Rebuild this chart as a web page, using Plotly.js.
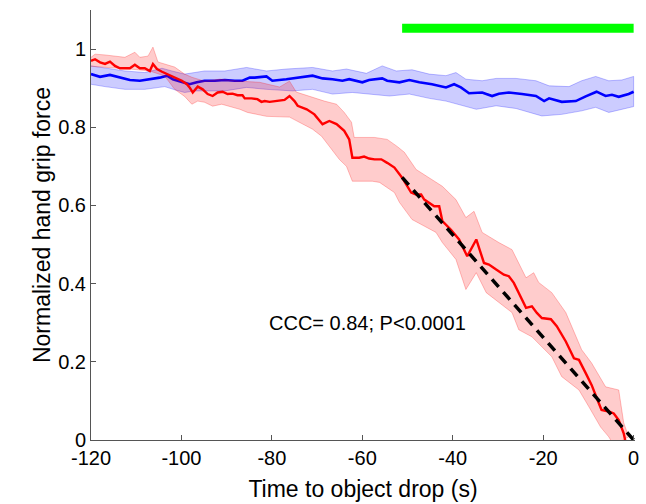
<!DOCTYPE html>
<html>
<head>
<meta charset="utf-8">
<script src="https://cdn.plot.ly/plotly-3.0.1.min.js"></script>
<style>html,body{margin:0;padding:0;background:#fff;}#chart{width:646px;height:504px;}</style>
</head>
<body>
<div id="chart"></div>
<script>
// Red condition (mean)
var redT = [-120,-119.1,-118.0,-116.9,-115.8,-114.7,-113.6,-112.5,-111.4,-110.3,-109.2,-108.1,-107.0,-106.3,-105.4,-104.3,-103.2,-102.1,-101.0,-99.9,-98.8,-98.2,-97.5,-96.4,-95.3,-94.2,-93.1,-92.0,-90.9,-89.8,-88.7,-87.6,-86.5,-86.0,-84.5,-83.2,-82.3,-81.6,-80.5,-78.7,-77.2,-76.1,-75.0,-74.3,-72.3,-70.6,-68.8,-67.3,-65.7,-64.0,-62.9,-62.2,-60.7,-59.6,-58.5,-57.3,-55.8,-54.5,-52.9,-51.2,-49.2,-48.1,-47.0,-46.3,-45.2,-44.1,-43.0,-42.3,-40.4,-38.6,-36.8,-34.8,-33.1,-32.0,-30.4,-28.7,-27.6,-26.5,-25.4,-24.7,-23.8,-22.5,-21.4,-20.3,-18.3,-17.0,-15.0,-13.2,-12.1,-10.6,-9.3,-7.7,-7.1,-5.5,-4.4,-3.3,-2.2,-1.8];
var redY = [0.970,0.974,0.966,0.962,0.968,0.957,0.951,0.951,0.951,0.960,0.951,0.951,0.944,0.962,0.949,0.942,0.936,0.932,0.925,0.919,0.910,0.902,0.889,0.904,0.897,0.885,0.880,0.889,0.891,0.885,0.886,0.882,0.882,0.874,0.874,0.872,0.865,0.867,0.865,0.867,0.870,0.880,0.867,0.855,0.846,0.833,0.808,0.816,0.808,0.791,0.769,0.722,0.722,0.725,0.720,0.718,0.718,0.709,0.697,0.671,0.633,0.628,0.628,0.615,0.607,0.598,0.598,0.560,0.538,0.513,0.470,0.513,0.453,0.449,0.436,0.423,0.419,0.402,0.376,0.359,0.338,0.342,0.325,0.312,0.309,0.291,0.252,0.209,0.205,0.171,0.141,0.094,0.077,0.073,0.068,0.051,0.017,-0.004];
// Red condition error band
var redUpT = [-120,-119.1,-116.9,-114.7,-112.5,-110.3,-109.2,-107.4,-106.3,-105.2,-103.7,-101.5,-99.3,-97.7,-94.9,-91.5,-87.1,-82.7,-78.3,-76.1,-74.6,-71.2,-68.4,-65.7,-64.0,-62.4,-61.8,-57.3,-54.5,-52.3,-50.7,-48.1,-44.6,-42.3,-39.3,-37.1,-35.3,-33.5,-29.8,-26.9,-23.8,-22.1,-21.0,-18.1,-15.0,-11.5,-9.3,-6.2,-3.3,-2.2,-1.1];
var redUp = [0.979,0.987,0.985,0.982,0.979,0.992,0.979,0.982,1.005,0.967,0.962,0.954,0.936,0.928,0.918,0.923,0.918,0.915,0.903,0.918,0.890,0.877,0.867,0.859,0.838,0.813,0.774,0.774,0.769,0.751,0.736,0.692,0.667,0.649,0.615,0.569,0.585,0.531,0.505,0.487,0.415,0.428,0.403,0.377,0.326,0.231,0.197,0.136,0.128,0.044,0.008];
var redLoT = [-120,-116.9,-111.4,-107.0,-103.7,-101.5,-99.3,-97.7,-96.4,-94.9,-93.1,-91.1,-87.1,-85.4,-81.2,-76.1,-71.0,-69.0,-65.1,-63.5,-62.2,-57.8,-56.2,-52.9,-51.8,-49.0,-43.7,-42.3,-39.3,-37.1,-34.8,-32.6,-26.9,-25.4,-22.5,-18.1,-15.9,-12.1,-9.9,-7.3,-5.5,-4.4];
var redLo = [0.956,0.954,0.949,0.944,0.931,0.897,0.879,0.859,0.867,0.864,0.854,0.859,0.846,0.838,0.828,0.826,0.795,0.777,0.718,0.700,0.662,0.662,0.659,0.633,0.608,0.564,0.531,0.505,0.462,0.385,0.428,0.377,0.326,0.282,0.264,0.213,0.162,0.128,0.085,0.033,0.008,-0.013];
// Blue condition (mean)
var blueT = [-120,-118.0,-115.8,-113.6,-111.4,-109.2,-107.0,-104.8,-103.2,-101.9,-99.9,-98.2,-96.6,-94.9,-92.6,-90.4,-88.2,-86.5,-84.9,-83.8,-81.2,-79.9,-76.8,-73.9,-71.0,-68.8,-66.6,-64.4,-62.9,-60.0,-58.5,-55.6,-54.5,-51.8,-49.6,-47.4,-44.6,-41.5,-39.7,-38.2,-36.4,-33.5,-31.3,-29.8,-27.6,-24.7,-21.6,-19.8,-18.7,-15.9,-12.8,-10.6,-8.2,-6.2,-4.8,-3.3,-1.1,0];
var blueY = [0.936,0.929,0.934,0.927,0.921,0.919,0.923,0.927,0.932,0.923,0.916,0.910,0.915,0.919,0.919,0.921,0.919,0.919,0.927,0.927,0.930,0.919,0.923,0.927,0.932,0.925,0.923,0.919,0.923,0.915,0.921,0.925,0.919,0.915,0.921,0.915,0.910,0.902,0.910,0.902,0.887,0.889,0.880,0.886,0.889,0.885,0.880,0.867,0.874,0.865,0.867,0.879,0.891,0.880,0.883,0.878,0.885,0.891];
// Blue condition error band
var blueUpT = [-120,-116.9,-112.5,-108.1,-104.3,-102.1,-99.3,-97.1,-94.9,-90.4,-85.6,-81.2,-76.8,-71.0,-66.6,-63.5,-59.1,-55.6,-52.5,-49.0,-45.2,-41.5,-39.3,-37.1,-33.5,-30.4,-26.0,-21.6,-18.7,-14.3,-11.5,-8.4,-5.5,-2.6,0];
var blueUp = [0.957,0.951,0.944,0.940,0.951,0.944,0.936,0.940,0.944,0.944,0.953,0.944,0.949,0.953,0.944,0.949,0.938,0.957,0.944,0.947,0.936,0.932,0.940,0.923,0.919,0.925,0.925,0.919,0.906,0.904,0.919,0.930,0.919,0.921,0.930];
var blueLoT = [-120,-116.9,-112.5,-108.1,-103.7,-101.5,-99.3,-97.1,-90.4,-85.6,-81.2,-75.4,-71.0,-66.6,-62.2,-57.8,-54.0,-49.6,-45.2,-41.5,-37.9,-34.8,-30.4,-26.0,-20.3,-15.9,-11.5,-8.4,-5.5,-2.6,0];
var blueLo = [0.910,0.904,0.897,0.897,0.904,0.896,0.889,0.893,0.893,0.902,0.897,0.893,0.897,0.885,0.889,0.885,0.880,0.885,0.874,0.867,0.855,0.846,0.855,0.848,0.829,0.833,0.842,0.851,0.838,0.846,0.853];
// Linear fit (dashed) and highlighted window (green bar)
var fitT = [-51.2, 0];
var fitY = [0.672, 0.0];
var barT = [-51.2, 0];
var barY = [1.053, 1.053];
var xTicks = [-120,-100,-80,-60,-40,-20,0];
var xTickText = ["-120","-100","-80","-60","-40","-20","0"];
var yTicks = [0,0.2,0.4,0.6,0.8,1];
var yTickText = ["0","0.2","0.4","0.6","0.8","1"];
var statText = "CCC= 0.84; P<0.0001";
var statPos = [-58.9, 0.30];

function band(upT, up, loT, lo) {
  return {
    x: upT.concat(loT.slice().reverse()),
    y: up.concat(lo.slice().reverse())
  };
}
var bb = band(blueUpT, blueUp, blueLoT, blueLo);
var rb = band(redUpT, redUp, redLoT, redLo);

var traces = [
  {x: bb.x, y: bb.y, mode: 'lines', fill: 'toself', fillcolor: 'rgba(0,0,255,0.2)',
   line: {color: 'rgba(0,0,255,0.25)', width: 1}, hoverinfo: 'skip', showlegend: false},
  {x: blueT, y: blueY, mode: 'lines', line: {color: '#0000ff', width: 2.6}, showlegend: false},
  {x: rb.x, y: rb.y, mode: 'lines', fill: 'toself', fillcolor: 'rgba(255,0,0,0.2)',
   line: {color: 'rgba(255,0,0,0.25)', width: 1}, hoverinfo: 'skip', showlegend: false},
  {x: redT, y: redY, mode: 'lines', line: {color: '#ff0000', width: 2.4}, showlegend: false},
  {x: fitT, y: fitY, mode: 'lines', line: {color: '#000000', width: 3.5, dash: '10px,7px'}, showlegend: false},
  {x: barT, y: barY, mode: 'lines', line: {color: '#00ff00', width: 9}, showlegend: false}
];

var fontFam = 'Liberation Sans, Arial, Helvetica, sans-serif';
var layout = {
  width: 646, height: 504,
  margin: {l: 91, r: 11, t: 10, b: 64},
  paper_bgcolor: '#ffffff', plot_bgcolor: '#ffffff',
  font: {family: fontFam, size: 20, color: '#000'},
  showlegend: false,
  xaxis: {
    range: [-120, 0.3], tickvals: xTicks, ticktext: xTickText, ticks: 'inside', ticklen: 5, tickcolor: '#555',
    showline: true, linecolor: '#555', linewidth: 1, showgrid: false, zeroline: false,
    tickfont: {size: 20, family: fontFam, color: '#000'},
    title: {text: 'Time to object drop (s)', font: {size: 23, family: fontFam, color: '#000'}, standoff: 12}
  },
  yaxis: {
    range: [0, 1.1], tickvals: yTicks, ticktext: yTickText, ticks: 'inside', ticklen: 5, tickcolor: '#555',
    showline: true, linecolor: '#555', linewidth: 1, showgrid: false, zeroline: false,
    tickfont: {size: 20, family: fontFam, color: '#000'},
    title: {text: 'Normalized hand grip force', font: {size: 23, family: fontFam, color: '#000'}, standoff: 1}
  },
  annotations: [{
    x: statPos[0], y: statPos[1], xref: 'x', yref: 'y', text: statText, showarrow: false,
    font: {size: 20, family: fontFam, color: '#000'}
  }]
};
Plotly.newPlot('chart', traces, layout, {staticPlot: true, displayModeBar: false});
</script>
</body>
</html>
